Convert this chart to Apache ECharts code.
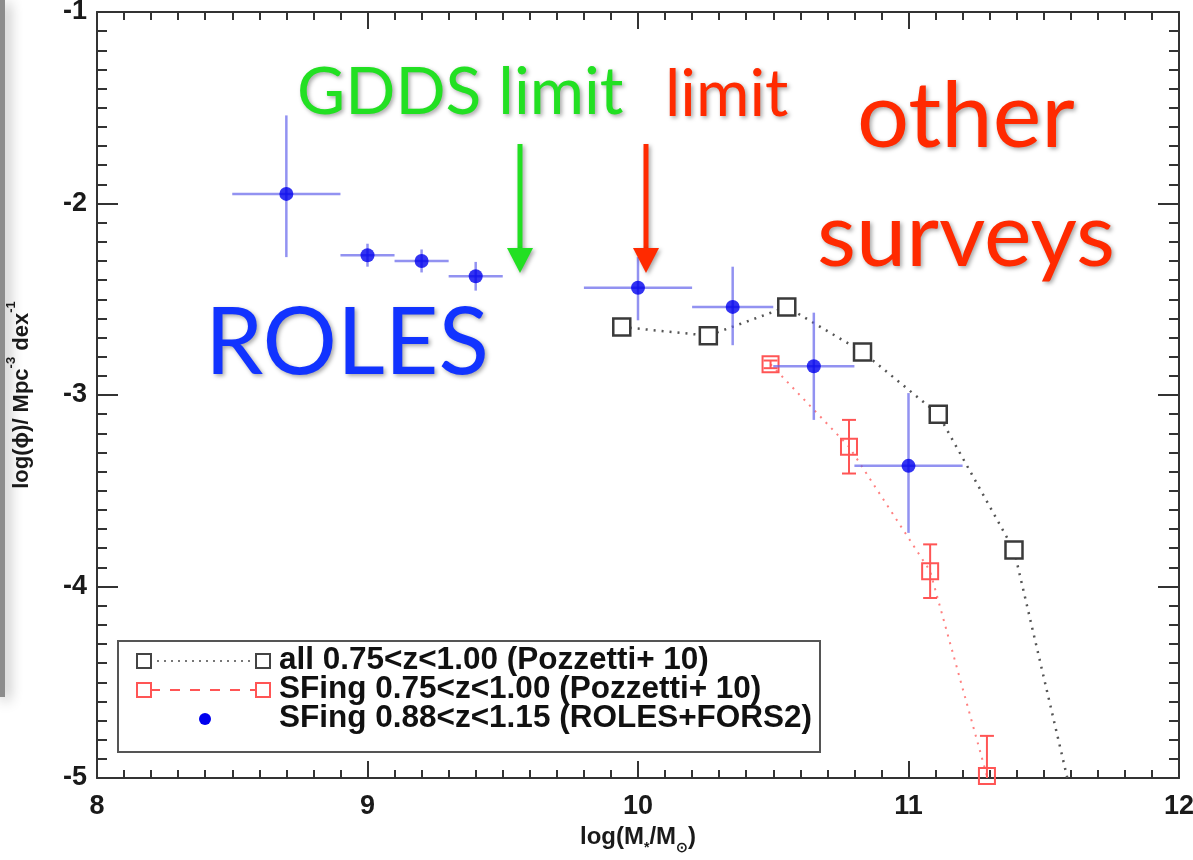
<!DOCTYPE html>
<html>
<head>
<meta charset="utf-8">
<script src="https://cdn.jsdelivr.net/npm/echarts@6/dist/echarts.min.js"></script>
<style>
html,body{margin:0;padding:0;background:#fff;}
#chart{width:1193px;height:860px;}
</style>
</head>
<body>
<div id="chart"></div>
<script>
// ROLES + FORS2 star-forming galaxies, 0.88<z<1.15
const rolesX = [8.70, 9.00, 9.20, 9.40, 10.00, 10.35, 10.65, 11.00];
const rolesY = [-1.95, -2.27, -2.30, -2.38, -2.44, -2.54, -2.85, -3.37];
const rolesXErr = [0.20, 0.10, 0.10, 0.10, 0.20, 0.15, 0.15, 0.20];
const rolesYErrUp = [0.41, 0.06, 0.06, 0.075, 0.16, 0.21, 0.28, 0.38];
const rolesYErrDn = [0.33, 0.06, 0.06, 0.075, 0.17, 0.20, 0.28, 0.35];
// all galaxies 0.75<z<1.00 (Pozzetti+10)
const allX = [9.94, 10.26, 10.55, 10.83, 11.11, 11.39, 11.67];
const allY = [-2.645, -2.69, -2.54, -2.775, -3.10, -3.81, -5.50];
// SF galaxies 0.75<z<1.00 (Pozzetti+10)
const sfX = [10.49, 10.78, 11.08, 11.29];
const sfY = [-2.84, -3.27, -3.92, -4.99];
const sfErr = [0.02, 0.14, 0.14, 0.21];
// axis ticks
const xTicks = [8, 9, 10, 11, 12];
const yTicks = [-5, -4, -3, -2, -1];
const minorStep = 0.1;

const legendLabels = [
  'all 0.75<z<1.00 (Pozzetti+ 10)',
  'SFing 0.75<z<1.00 (Pozzetti+ 10)',
  'SFing 0.88<z<1.15 (ROLES+FORS2)'
];

const chart = echarts.init(document.getElementById('chart'));

const rolesData = rolesX.map((x, i) => [x, rolesY[i], rolesXErr[i], rolesYErrUp[i], rolesYErrDn[i]]);
const allData = allX.map((x, i) => [x, allY[i]]);
const sfData = sfX.map((x, i) => [x, sfY[i], sfErr[i]]);

const axisCol = '#333';
const tickFont = {fontFamily: 'Liberation Sans, Arial, sans-serif', fontWeight: 'bold', fontSize: 27, color: '#1a1a1a'};

const xMin = xTicks[0], xMax = xTicks[xTicks.length - 1];
const yMin = yTicks[0], yMax = yTicks[yTicks.length - 1];

function mkX(pos, interval, tickLen, labels, line) {
  return {
    type: 'value', min: xMin, max: xMax, interval: interval, position: pos,
    axisLine: {show: line, onZero: false, lineStyle: {color: axisCol, width: 2}},
    axisTick: {show: true, inside: true, length: tickLen, lineStyle: {color: axisCol, width: 2}},
    minorTick: {show: false},
    splitLine: {show: false},
    axisLabel: labels ? Object.assign({margin: 15}, tickFont) : {show: false}
  };
}
function mkY(pos, interval, tickLen, labels, line) {
  return {
    type: 'value', min: yMin, max: yMax, interval: interval, position: pos,
    axisLine: {show: line, onZero: false, lineStyle: {color: axisCol, width: 2}},
    axisTick: {show: true, inside: true, length: tickLen, lineStyle: {color: axisCol, width: 2}},
    minorTick: {show: false},
    splitLine: {show: false},
    axisLabel: labels ? Object.assign({margin: 10}, tickFont) : {show: false}
  };
}

const xA = mkX('bottom', 1, 17, true, true);
xA.name = '{a|log(M}{b|*}{a|/M}{b|\u2299}{a|)}';
xA.nameLocation = 'middle';
xA.nameGap = 40;
xA.nameTextStyle = {
  rich: {
    a: {fontFamily: 'Liberation Sans, Arial', fontWeight: 'bold', fontSize: 24, color: '#1a1a1a', lineHeight: 36},
    b: {fontFamily: 'Liberation Sans, Arial', fontWeight: 'bold', fontSize: 14, color: '#1a1a1a', lineHeight: 16, verticalAlign: 'bottom'}
  }
};
const yA = mkY('left', 1, 21, true, true);
yA.name = '{a|log(\u03d5)/ Mpc}{s|-3}{a| dex}{s|-1}';
yA.nameLocation = 'middle';
yA.nameGap = 58;
yA.nameTextStyle = {
  rich: {
    a: {fontFamily: 'Liberation Sans, Arial', fontWeight: 'bold', fontSize: 22, color: '#1a1a1a', lineHeight: 34},
    s: {fontFamily: 'Liberation Sans, Arial', fontWeight: 'bold', fontSize: 13, color: '#1a1a1a', lineHeight: 15, verticalAlign: 'top'}
  }
};

const rolesBar = 'rgba(100,100,235,0.7)';
const sfCol = '#ff5555';

const annFont = 'Lato, "Open Sans", sans-serif';
const shadow = {shadowBlur: 4, shadowColor: 'rgba(0,0,0,0.35)', shadowOffsetX: 2, shadowOffsetY: 2};

function annText(text, x, y, size, color) {
  return {
    type: 'text', left: x, top: y, z: 100,
    style: {text: text, font: 'normal ' + size + 'px ' + annFont, fill: color,
      textShadowBlur: 4, textShadowColor: 'rgba(0,0,0,0.35)', textShadowOffsetX: 2, textShadowOffsetY: 2}
  };
}
function arrow(x, y0, y1, color) {
  return [
    {type: 'line', z: 100, shape: {x1: x, y1: y0, x2: x, y2: y1 - 20}, style: Object.assign({stroke: color, lineWidth: 5}, shadow)},
    {type: 'polygon', z: 100, shape: {points: [[x - 13, y1 - 25], [x + 13, y1 - 25], [x, y1]]}, style: Object.assign({fill: color}, shadow)}
  ];
}

const legendFont = 'bold 31.5px "Liberation Sans", Arial, sans-serif';
const lg = {x: 118, y: 641, w: 702, h: 111};
const rowY = [661, 690, 719];
const legendGraphics = [
  {type: 'rect', z: 50, shape: {x: lg.x, y: lg.y, width: lg.w, height: lg.h}, style: {fill: '#fff', stroke: '#555', lineWidth: 2}},
  {type: 'line', z: 51, shape: {x1: 150, y1: rowY[0], x2: 256, y2: rowY[0]}, style: {stroke: '#777', lineWidth: 2, lineDash: [2, 5]}},
  {type: 'rect', z: 52, shape: {x: 137, y: rowY[0] - 7, width: 14, height: 14}, style: {fill: '#fff', stroke: '#444', lineWidth: 2}},
  {type: 'rect', z: 52, shape: {x: 256, y: rowY[0] - 7, width: 14, height: 14}, style: {fill: '#fff', stroke: '#444', lineWidth: 2}},
  {type: 'line', z: 51, shape: {x1: 150, y1: rowY[1], x2: 256, y2: rowY[1]}, style: {stroke: sfCol, lineWidth: 2, lineDash: [10, 10]}},
  {type: 'rect', z: 52, shape: {x: 137, y: rowY[1] - 7, width: 14, height: 14}, style: {fill: '#fff', stroke: sfCol, lineWidth: 2}},
  {type: 'rect', z: 52, shape: {x: 256, y: rowY[1] - 7, width: 14, height: 14}, style: {fill: '#fff', stroke: sfCol, lineWidth: 2}},
  {type: 'circle', z: 52, shape: {cx: 205, cy: rowY[2], r: 6}, style: {fill: '#0000ee'}}
].concat(legendLabels.map((t, i) => ({
  type: 'text', z: 52, left: 279, top: rowY[i] - 17,
  style: {text: t, font: legendFont, fill: '#111'}
})));

const option = {
  backgroundColor: '#fff',
  animation: false,
  grid: {left: 97, right: 14, top: 12, bottom: 82, containLabel: false, outerBoundsMode: 'none'},
  xAxis: [
    xA,
    mkX('top', 1, 17, false, true),
    mkX('bottom', minorStep, 8, false, false),
    mkX('top', minorStep, 8, false, false)
  ],
  yAxis: [
    yA,
    mkY('right', 1, 21, false, true),
    mkY('left', minorStep, 10, false, false),
    mkY('right', minorStep, 10, false, false)
  ],
  graphic: [
    {type: 'rect', z: 0, shape: {x: 0, y: 0, width: 5, height: 697}, style: {fill: '#8c8c8c', shadowBlur: 14, shadowColor: 'rgba(0,0,0,0.45)', shadowOffsetX: 3, shadowOffsetY: 3}},
    annText('GDDS limit', 297, 60, 66, '#22e022'),
    annText('limit', 665, 63, 65, '#ff2a00'),
    annText('other', 857, 71, 92, '#ff2a00'),
    annText('surveys', 817, 192, 90, '#ff2a00'),
    annText('ROLES', 205, 297, 93, '#1133ff')
  ].concat(arrow(520, 144, 273, '#22e022'), arrow(646, 144, 273, '#ff2a00'), legendGraphics),
  series: [
    {
      type: 'line', name: 'all', data: allData, clip: true,
      symbol: 'rect', symbolSize: 17,
      itemStyle: {color: '#fff', borderColor: '#3a3a3a', borderWidth: 2.5},
      lineStyle: {color: '#555', width: 2.5, type: [2, 6]},
      z: 3
    },
    {
      type: 'line', name: 'sf', data: sfData.map(d => [d[0], d[1]]), clip: true,
      symbol: 'rect', symbolSize: 16,
      itemStyle: {color: 'rgba(255,255,255,0)', borderColor: sfCol, borderWidth: 2},
      lineStyle: {color: '#ff8080', width: 2, type: [2, 6]},
      z: 3
    },
    {
      type: 'custom', name: 'sfErr', data: sfData, clip: true, z: 4,
      encode: {x: 0, y: 1},
      renderItem: function (params, api) {
        const x = api.value(0), y = api.value(1), e = api.value(2);
        const t = api.coord([x, y + e]), b = api.coord([x, y - e]);
        const st = {stroke: sfCol, lineWidth: 2};
        return {type: 'group', children: [
          {type: 'line', shape: {x1: t[0], y1: t[1], x2: b[0], y2: b[1]}, style: st},
          {type: 'line', shape: {x1: t[0] - 7, y1: t[1], x2: t[0] + 7, y2: t[1]}, style: st},
          {type: 'line', shape: {x1: b[0] - 7, y1: b[1], x2: b[0] + 7, y2: b[1]}, style: st}
        ]};
      }
    },
    {
      type: 'custom', name: 'rolesErr', data: rolesData, clip: true, z: 5,
      encode: {x: 0, y: 1},
      renderItem: function (params, api) {
        const x = api.value(0), y = api.value(1), xe = api.value(2), yu = api.value(3), yd = api.value(4);
        const l = api.coord([x - xe, y]), r = api.coord([x + xe, y]);
        const t = api.coord([x, y + yu]), b = api.coord([x, y - yd]);
        const st = {stroke: rolesBar, lineWidth: 2.5};
        return {type: 'group', children: [
          {type: 'line', shape: {x1: l[0], y1: l[1], x2: r[0], y2: r[1]}, style: st},
          {type: 'line', shape: {x1: t[0], y1: t[1], x2: b[0], y2: b[1]}, style: st}
        ]};
      }
    },
    {
      type: 'scatter', name: 'roles', data: rolesData.map(d => [d[0], d[1]]),
      symbol: 'circle', symbolSize: 14,
      itemStyle: {color: '#0000ee'}, z: 6
    }
  ]
};
chart.setOption(option);
</script>
</body>
</html>
